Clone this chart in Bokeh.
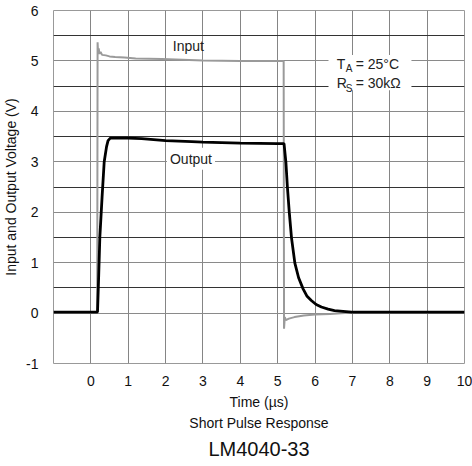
from bokeh.plotting import figure
from bokeh.models import (FixedTicker, Label, BoxAnnotation, Title)
from bokeh.embed import file_html
from bokeh.resources import INLINE

# ---- data ----
input_t = [-1.0, 0.17, 0.18, 0.19, 0.21, 0.23, 0.26, 0.30, 0.40, 0.50, 0.65, 0.90, 1.20, 1.90, 3.00, 4.00, 5.00, 5.16,
           5.17, 5.19, 5.22, 5.30, 5.45, 5.70, 6.00, 6.40, 6.80, 8.00, 10.0]
input_v = [0.0, 0.0, 5.37, 5.20, 5.25, 5.14, 5.18, 5.12, 5.11, 5.09, 5.08, 5.07, 5.05, 5.04, 5.01, 5.00, 5.00, 5.00,
           -0.31, -0.08, -0.14, -0.11, -0.08, -0.05, -0.03, -0.02, 0.0, 0.0, 0.0]

output_t = [-1.0, 0.178, 0.21, 0.24, 0.30, 0.357, 0.42, 0.46, 0.52, 0.70, 1.00, 1.36, 2.00, 2.70, 3.00, 4.00, 5.00, 5.17,
            5.22, 5.26, 5.31, 5.37, 5.46, 5.56, 5.68, 5.78, 5.90, 6.03, 6.17, 6.35, 6.52, 6.98, 8.00, 10.0]
output_v = [0.02, 0.02, 0.75, 1.5, 2.3, 3.0, 3.3, 3.42, 3.47, 3.47, 3.47, 3.46, 3.42, 3.40, 3.39, 3.37, 3.36, 3.36,
            2.99, 2.50, 2.00, 1.49, 0.99, 0.70, 0.48, 0.34, 0.25, 0.17, 0.12, 0.08, 0.05, 0.02, 0.02, 0.02]

x_ticks = [-1, 0, 1, 2, 3, 4, 5, 6, 7, 8, 9, 10]
y_ticks = [-1, 0, 1, 2, 3, 4, 5, 6]
y_half = [0.5, 1.5, 2.5, 3.5, 4.5, 5.5]

FONT = "Liberation Sans"

p = figure(frame_width=411, frame_height=353, x_range=(-1, 10), y_range=(-1, 6),
           output_backend="svg", toolbar_location=None,
           min_border_left=52, min_border_right=9, min_border_top=10, min_border_bottom=4)

p.background_fill_color = "white"
p.outline_line_color = "#999999"
p.outline_line_width = 1

# axes
p.xaxis.ticker = FixedTicker(ticks=x_ticks)
p.xaxis.major_label_overrides = {-1: ""}
p.yaxis.ticker = FixedTicker(ticks=y_ticks, minor_ticks=y_half)
p.yaxis.major_label_overrides = {-1: "-1"}
for ax in (p.xaxis, p.yaxis):
    ax.axis_line_color = None
    ax.major_tick_line_color = None
    ax.minor_tick_line_color = None
    ax.major_tick_out = 0
    ax.major_tick_in = 0
    ax.major_label_text_font = FONT
    ax.major_label_text_font_size = "14px"
    ax.major_label_text_color = "#111111"
    ax.axis_label_text_font = FONT
    ax.axis_label_text_font_size = "14px"
    ax.axis_label_text_font_style = "normal"
    ax.axis_label_text_color = "#111111"
p.xaxis.major_label_standoff = 12
p.yaxis.major_label_standoff = 11
p.xaxis.axis_label = "Time (µs)"
p.xaxis.axis_label_standoff = 5
p.yaxis.axis_label = "Input and Output Voltage (V)"
p.yaxis.axis_label_standoff = 4

# grid
p.xgrid.grid_line_color = "#858585"
p.xgrid.grid_line_width = 1
p.ygrid.grid_line_color = "#8a8a8a"
p.ygrid.minor_grid_line_color = "#333333"
p.ygrid.grid_line_width = 1

# data
p.line(input_t, input_v, line_color="#9a9a9a", line_width=2)
p.line(output_t, output_v, line_color="#000000", line_width=2.8)

# annotations
p.add_layout(Label(x=2.61, y=5.29, text="Input", text_align="center", text_baseline="middle",
                   text_font=FONT, text_font_size="14px", text_color="#222222"))
p.add_layout(Label(x=2.68, y=3.06, text="Output", text_align="center", text_baseline="middle",
                   text_font=FONT, text_font_size="14px", text_color="#222222",
                   background_fill_color="white", padding=3))

p.add_layout(BoxAnnotation(left=6.36, right=8.58, bottom=4.42, top=5.12,
                           fill_color="white", fill_alpha=1.0, line_color=None))
for (yy, main, sub, rest) in [(4.94, "T", "A", "= 25°C"), (4.56, "R", "S", "= 30kΩ")]:
    p.add_layout(Label(x=6.58, y=yy, text=main, text_align="left", text_baseline="middle",
                       text_font=FONT, text_font_size="14px", text_color="#222222"))
    p.add_layout(Label(x=6.58, y=yy, x_offset=9, y_offset=-5, text=sub, text_align="left",
                       text_baseline="middle", text_font=FONT, text_font_size="10px",
                       text_color="#222222"))
    p.add_layout(Label(x=6.58, y=yy, x_offset=19, text=rest, text_align="left", text_baseline="middle",
                       text_font=FONT, text_font_size="14px", text_color="#222222"))

p.add_layout(Title(text="Short Pulse Response", align="center", text_font=FONT,
                   text_font_size="14px", text_font_style="normal", text_color="#111111",
                   standoff=0), "below")
p.add_layout(Title(text="LM4040-33", align="center", text_font=FONT,
                   text_font_size="20px", text_font_style="normal", text_color="#111111",
                   standoff=10), "below")

open("out.html", "w").write(file_html(p, INLINE))
